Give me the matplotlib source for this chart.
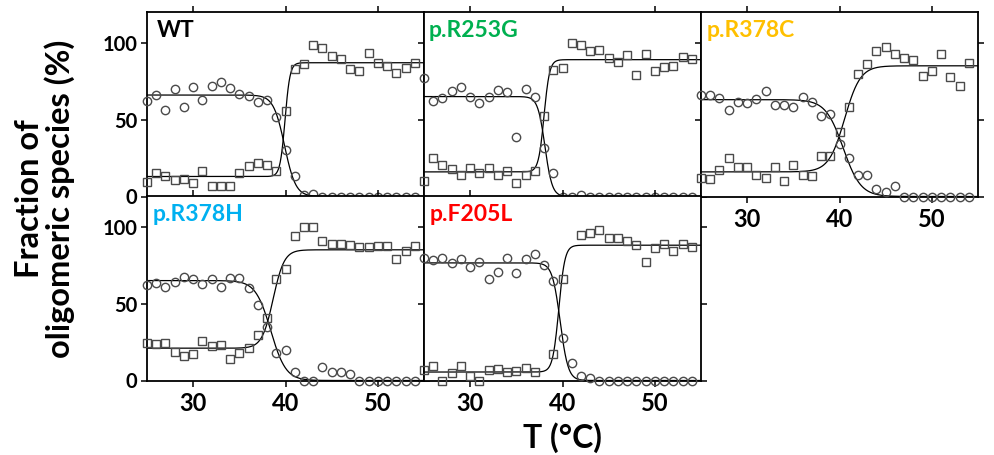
import numpy as np
import matplotlib
matplotlib.use("Agg")
import matplotlib.pyplot as plt

plt.rcParams['font.family'] = ['Lato', 'DejaVu Sans']

# ---------------- data ----------------
temps = list(range(25, 55))  # 25 ... 54 °C

panel_names = ["WT", "p.R253G", "p.R378C", "p.R378H", "p.F205L"]
panel_colors = ["#000000", "#00B050", "#FFC000", "#00B0F0", "#FF0000"]

wt_circ = [62.3, 66.2, 56.5, 69.7, 58.2, 71.0, 63.0, 72.0, 74.7, 70.6, 66.7, 65.6, 61.3, 63.0,
           51.5, 30.3, 13.4, 1.0, 1.5, 0, 0, 0, 0, 0, 0, 0, 0, 0, 0, 0]
wt_sq = [9.7, 15.4, 13.2, 11.0, 11.5, 9.1, 16.9, 7.1, 7.1, 7.1, 15.6, 20.1, 21.6, 20.6, 16.9,
         55.8, 82.7, 86.1, 98.7, 96.3, 91.1, 89.4, 82.7, 81.4, 93.3, 86.6, 84.6, 80.3, 83.3, 87.0]

r253g_circ = [77.0, 61.8, 64.2, 68.5, 71.1, 64.6, 60.5, 64.6, 69.2, 67.7, 38.4, 69.6, 64.9, 31.5,
              15.0, 0, 0, 1.3, 0, 0, 0, 0, 0, 0, 0, 0, 0, 0, 0, 0]
r253g_sq = [10.4, 24.9, 20.8, 18.0, 13.9, 18.7, 15.4, 18.7, 14.3, 16.9, 8.7, 14.1, 16.9, 52.3,
            82.2, 83.5, 99.8, 98.7, 94.4, 95.0, 90.2, 87.2, 92.0, 79.0, 92.8, 81.6, 84.0, 84.6, 90.7, 89.6]

r378c_circ = [66.2, 66.2, 64.2, 56.0, 61.4, 61.0, 63.1, 68.8, 59.7, 59.7, 57.9, 64.9, 61.4, 52.3,
              53.4, 34.3, 25.2, 14.1, 13.7, 4.6, 2.8, 6.7, 0, 0, 0, 0, 0, 0, 0, 0]
r378c_sq = [11.9, 11.1, 17.4, 25.2, 19.1, 19.3, 14.3, 11.9, 19.1, 9.8, 20.8, 14.1, 13.2, 26.5,
            26.2, 41.9, 58.1, 79.8, 85.9, 94.6, 97.0, 92.8, 90.0, 88.5, 78.5, 81.8, 92.8, 77.4, 71.8, 86.8]

r378h_circ = [62.2, 63.7, 60.7, 64.1, 67.4, 66.1, 62.6, 66.1, 60.9, 66.7, 66.7, 60.0, 49.1, 34.8,
              17.8, 19.8, 5.4, 0, 0, 8.5, 5.4, 5.4, 4.3, 0, 0, 0, 0, 0, 0, 0]
r378h_sq = [24.1, 23.9, 24.1, 18.5, 15.7, 17.2, 25.9, 22.4, 23.0, 13.9, 17.8, 21.1, 29.8, 40.4,
            66.1, 72.6, 93.9, 100.0, 100.0, 90.7, 88.9, 88.7, 88.0, 86.7, 86.7, 87.6, 87.4, 78.9, 84.3, 87.4]

f205l_circ = [79.5, 78.2, 79.5, 76.7, 78.8, 74.1, 77.3, 65.9, 70.4, 79.5, 69.8, 79.3, 82.1, 75.4,
              65.0, 27.6, 11.2, 2.8, 1.9, 0, 0, 0, 0, 0, 0, 0, 0, 0, 0, 0]
f205l_sq = [6.9, 9.3, 0, 5.0, 9.3, 3.2, 0, 6.9, 7.3, 5.4, 6.5, 8.2, 5.4, np.nan,
            17.0, 65.7, np.nan, 94.4, 95.9, 97.8, 92.9, 92.7, 90.5, 88.3, 77.1, 86.4, 88.6, 84.4, 89.0, 86.8]

circ_data = [wt_circ, r253g_circ, r378c_circ, r378h_circ, f205l_circ]
sq_data = [wt_sq, r253g_sq, r378c_sq, r378h_sq, f205l_sq]

# Boltzmann fit parameters
# circles: plateau, Tm, width (decay to 0)
circ_plateau = [66.0, 65.0, 63.0, 65.0, 76.5]
circ_tm = [39.9, 38.1, 40.4, 38.4, 39.75]
circ_w = [0.6, 0.39, 0.95, 0.82, 0.43]
# squares: low plateau, high plateau, Tm, width
sq_low = [13.0, 16.0, 16.0, 21.0, 5.5]
sq_high = [87.0, 89.0, 85.0, 85.0, 88.0]
sq_tm = [39.95, 38.0, 40.55, 38.66, 39.6]
sq_w = [0.27, 0.3, 0.85, 0.6, 0.33]

xticks = [30, 40, 50]
yticks = [0, 50, 100]

# ---------------- figure ----------------
W, H = 994, 455
fig = plt.figure(figsize=(W / 100, H / 100), dpi=100)

col_left = [147, 424, 701]
pw = 277
row_top = [12, 196]
ph = 184.5
grid = [(0, 0), (0, 1), (0, 2), (1, 0), (1, 1)]
title_x = [0.036, 0.016, 0.022, 0.022, 0.022]

tfine = np.linspace(25, 55, 600)
edge = "#4a4a4a"

for i, (r, c) in enumerate(grid):
    left = col_left[c] / W
    bottom = 1 - (row_top[r] + ph) / H
    ax = fig.add_axes([left, bottom, pw / W, ph / H])
    ax.set_xlim(25, 55)
    ax.set_ylim(0, 120)

    fc = circ_plateau[i] / (1 + np.exp((tfine - circ_tm[i]) / circ_w[i]))
    fs = sq_low[i] + (sq_high[i] - sq_low[i]) / (1 + np.exp((sq_tm[i] - tfine) / sq_w[i]))
    ax.plot(tfine, fc, color="black", lw=0.9, zorder=2)
    ax.plot(tfine, fs, color="black", lw=0.9, zorder=2)

    ax.plot(temps, circ_data[i], linestyle="none", marker="o", ms=6, mfc="none",
            mec=edge, mew=1.0, clip_on=False, zorder=5)
    ax.plot(temps, sq_data[i], linestyle="none", marker="s", ms=6, mfc="none",
            mec=edge, mew=1.0, clip_on=False, zorder=5)

    for s in ax.spines.values():
        s.set_linewidth(1.3)
        s.set_color("black")

    ax.set_xticks(xticks)
    ax.set_yticks(yticks)
    ax.tick_params(axis="both", which="both", length=4, width=1.1, color="black")
    ax.tick_params(axis="x", direction="out", top=True, labeltop=False)
    ax.tick_params(axis="y", direction="out", right=True, labelright=False)
    # inward ticks on top and right
    for t in ax.xaxis.get_major_ticks():
        t.tick2line.set_marker(3)
    for t in ax.yaxis.get_major_ticks():
        t.tick2line.set_marker(0)

    show_x = (r == 1) or (c == 2)
    show_y = (c == 0)
    ax.tick_params(axis="x", labelbottom=show_x, labelsize=17, pad=4)
    ax.tick_params(axis="y", labelleft=show_y, labelsize=14.5, pad=3)
    for lab in ax.get_xticklabels():
        lab.set_fontweight("bold")
    for lab in ax.get_yticklabels():
        lab.set_fontweight("bold")

    ax.text(title_x[i], 0.955, panel_names[i], transform=ax.transAxes, ha="left", va="top",
            fontsize=16.5, fontweight="bold", color=panel_colors[i], zorder=6)

fig.text(0.045, 1 - 199 / H, "Fraction of\noligomeric species (%)", rotation=90,
         ha="center", va="center", fontsize=23.5, fontweight="bold", linespacing=1.0)
fig.text(562 / W, 1 - 438 / H, "T (°C)", ha="center", va="center", fontsize=23,
         fontweight="bold")

fig.savefig("out.png", dpi=100)
